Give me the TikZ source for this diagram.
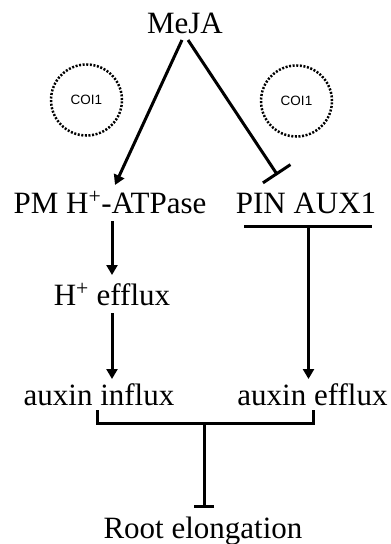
\documentclass[tikz,border=0pt]{standalone}
\usepackage{fontspec}
\setmainfont{Liberation Serif}
\newfontfamily\labelsans{Liberation Sans}
\usetikzlibrary{arrows.meta,calc}
\tikzset{
  txt/.style={inner sep=0pt, anchor=base, font=\fontsize{31}{36}\selectfont},
  coi/.style={circle, draw, line width=2.5pt, dash pattern=on 2pt off 1.6pt,
              minimum size=71pt, inner sep=0pt, font=\labelsans\fontsize{13.5}{15}\selectfont},
  link/.style={line width=3pt},
  arr/.style={link, -{Triangle[length=10pt,width=11pt]}},
  inh/.style={link, -{Bar[width=33pt,line width=3pt]}},
  inhsmall/.style={link, -{Bar[width=20pt,line width=3pt]}}
}
\begin{document}
\begin{tikzpicture}[x=1pt,y=-1pt]
\useasboundingbox (0,0) rectangle (391,544);
% nodes
\node[txt] (meja) at (185,33) {MeJA};
\node[coi] (c1) at (86.5,100) {COI1};
\node[coi] (c2) at (296.5,101) {COI1};
\node[txt] (pm) at (110,213) {PM H\textsuperscript{+}-ATPase};
\node[txt] (pin) at (306,213) {PIN AUX1};
\node[txt] (hef) at (112,305) {H\textsuperscript{+} efflux};
\node[txt] (ain) at (99,405) {auxin influx};
\node[txt] (aef) at (312.5,405) {auxin efflux};
\node[txt] (root) at (203,538) {Root elongation};
% connector ends
\coordinate (mL) at ($(meja.base)+(-3,7)$);
\coordinate (mR) at ($(meja.base)+(3,7)$);
\coordinate (pmTop) at (115,185);
\coordinate (pinTop) at (277.5,175);
\coordinate (pinBarL) at (244,226);
\coordinate (pinBarR) at (372,226);
\coordinate (pinBarM) at (308.5,226);
\coordinate (aefTop) at (308.5,379);
\coordinate (brL) at (97,410);
\coordinate (brR) at (313,410);
\coordinate (brLb) at (97,423);
\coordinate (brRb) at (313,423);
\coordinate (brM) at (204,423);
\coordinate (rootTop) at (204,508);
% connectors
\draw[arr] (mL) -- (pmTop);
\draw[inh] (mR) -- (pinTop);
\draw[arr] ($(hef.base |- pm.base)+(0,8)$) -- ($(hef.base)+(0,-30)$);
\draw[arr] ($(hef.base)+(0,8)$) -- ($(hef.base)+(0,74)$);
\draw[link] (pinBarL) -- (pinBarR);
\draw[arr] (pinBarM) -- (aefTop);
\draw[link] (brL) -- (brLb) -- (brRb) -- (brR);
\draw[inhsmall] (brM) -- (rootTop);
\end{tikzpicture}
\end{document}
